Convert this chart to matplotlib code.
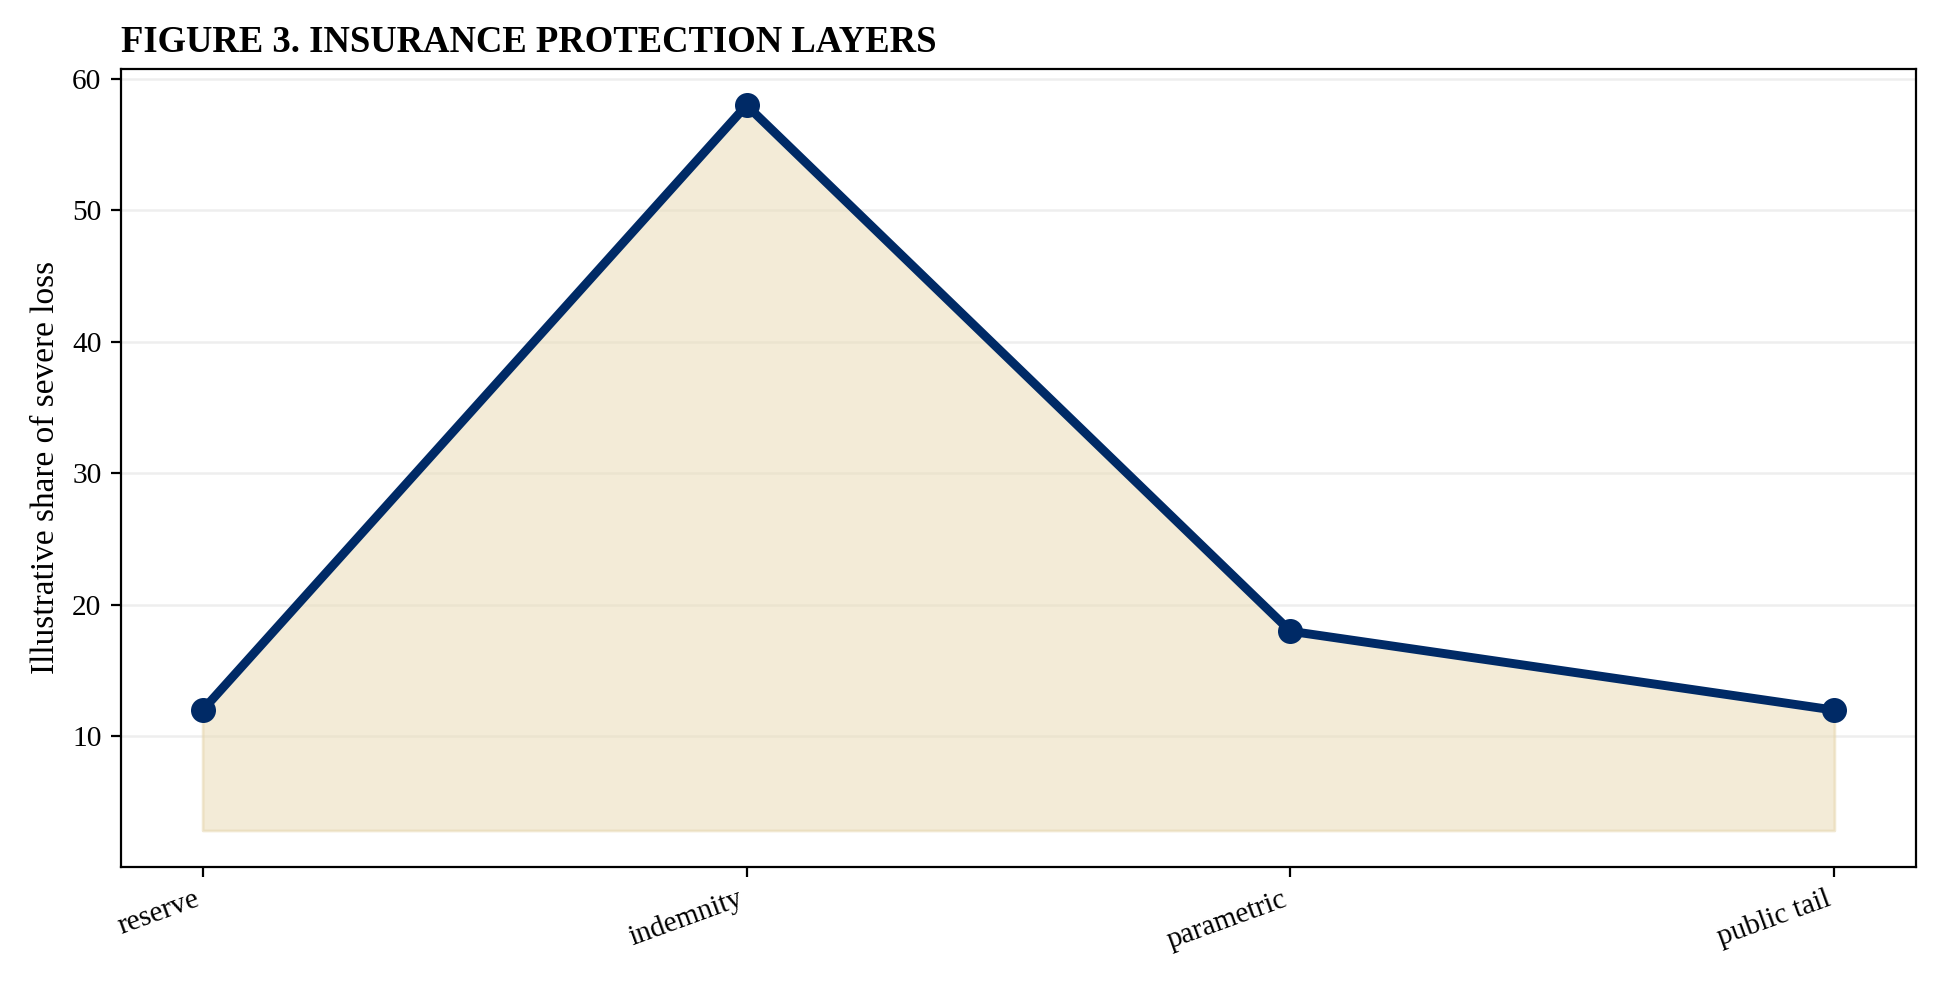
import matplotlib
matplotlib.use("Agg")
import matplotlib.pyplot as plt

# layers of protection and their illustrative share of a severe loss
layers = ["reserve", "indemnity", "parametric", "public tail"]
share = [12, 58, 18, 12]
fill_base = 2.85

plt.rcParams['font.family'] = ['Liberation Serif', 'DejaVu Serif']

fig, ax = plt.subplots(figsize=(9.7, 4.915), dpi=200)
fig.subplots_adjust(left=0.0624, right=0.9876, top=0.9298, bottom=0.1183)

x = list(range(len(layers)))
ax.fill_between(x, share, fill_base, color='#eadcb6', alpha=0.55,
                edgecolor='#e6d6ae', linewidth=1)
ax.plot(x, share, '-o', color='#002a66', linewidth=3.2, markersize=8)

ax.set_xticks(x)
ax.set_xticklabels(layers, rotation=20, ha='right', fontsize=10.6)
ax.tick_params(axis='y', labelsize=10.6)
ax.set_ylabel("Illustrative share of severe loss", fontsize=12)
ax.set_title("FIGURE 3. INSURANCE PROTECTION LAYERS", loc='left',
             fontsize=13.2, fontweight='bold')

ax.grid(axis='y', color='#eeeeee', linewidth=0.9)
ax.set_axisbelow(True)

plt.savefig('out.png')
